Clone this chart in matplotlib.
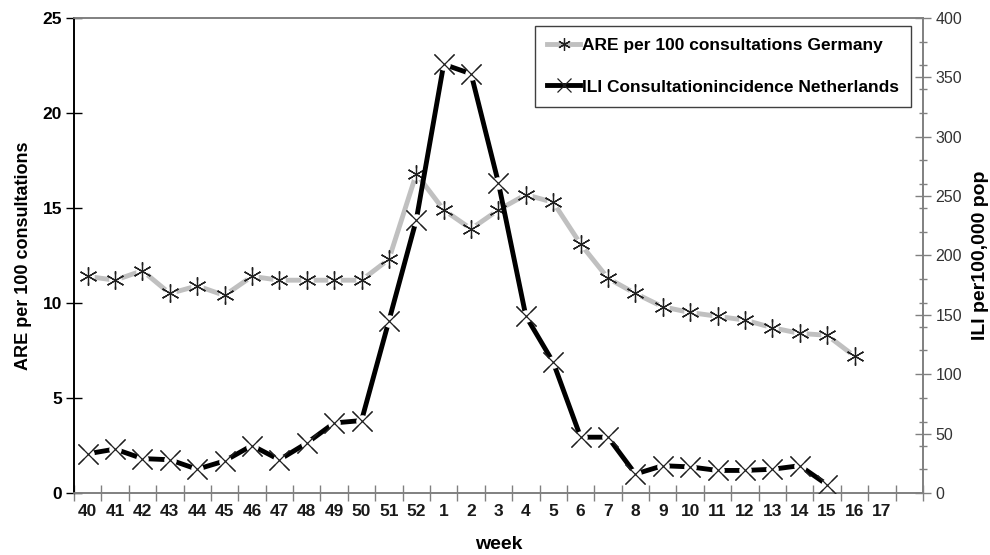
import numpy as np
import matplotlib.pyplot as plt
from matplotlib.ticker import MultipleLocator, FixedLocator

plt.rcParams["font.family"] = ["Liberation Sans", "DejaVu Sans"]

weeks = ["40", "41", "42", "43", "44", "45", "46", "47", "48", "49", "50",
         "51", "52", "1", "2", "3", "4", "5", "6", "7", "8", "9", "10", "11",
         "12", "13", "14", "15", "16", "17"]

# ARE per 100 consultations, Germany (left axis)
are_germany = [11.4, 11.2, 11.7, 10.5, 10.9, 10.4, 11.4, 11.2, 11.2, 11.2,
               11.2, 12.3, 16.8, 14.9, 13.9, 14.9, 15.7, 15.3, 13.1, 11.3,
               10.5, 9.8, 9.5, 9.3, 9.1, 8.7, 8.4, 8.3, 7.2, np.nan]

# ILI consultation incidence per 100,000, Netherlands (right axis)
ili_netherlands = [33, 37, 29, 28, 20, 27, 40, 28, 42, 59, 61, 145, 230,
                   361, 353, 261, 149, 110, 47, 47, 16, 23, 22, 19, 19, 20,
                   23, 7, np.nan, np.nan]

x = np.arange(len(weeks))
grey = "#c0c0c0"
axis_grey = "#808080"

fig = plt.figure(figsize=(9.9, 5.55), dpi=100)
ax = fig.add_axes([0.0747, 0.1117, 0.8576, 0.8559])
ax2 = ax.twinx()

star = (6, 2, 0)
# Germany
ax.plot(x, are_germany, color=grey, linewidth=3.5, zorder=2,
        label="ARE per 100 consultations Germany",
        marker=star, markersize=13, markeredgecolor="#202020",
        markeredgewidth=0.9)
ax.plot(x, are_germany, linestyle="none", marker="o", markersize=9,
        markerfacecolor="white", markeredgewidth=0, zorder=3)
ax.plot(x, are_germany, linestyle="none", marker=star, markersize=13,
        markeredgecolor="#202020", markeredgewidth=0.9, zorder=4)

# Netherlands
ax2.plot(x, ili_netherlands, color="black", linewidth=3.5, zorder=2,
         label="ILI Consultationincidence Netherlands",
         marker="x", markersize=14, markeredgecolor="#202020",
         markeredgewidth=0.9)
ax2.plot(x, ili_netherlands, linestyle="none", marker="o", markersize=9,
         markerfacecolor="white", markeredgewidth=0, zorder=3)
ax2.plot(x, ili_netherlands, linestyle="none", marker="x", markersize=14,
         markeredgecolor="#202020", markeredgewidth=0.9, zorder=4)

ax.set_xlim(-0.5, len(weeks) + 0.5)
ax.set_ylim(0, 25)
ax2.set_ylim(0, 400)

ax.xaxis.set_major_locator(FixedLocator(np.arange(-0.5, len(weeks) + 1, 1)))
ax.xaxis.set_minor_locator(FixedLocator(x))
ax.set_xticklabels([])
ax.set_xticklabels(weeks, minor=True)
ax.tick_params(axis="x", which="major", direction="inout", length=11,
               width=1, color=axis_grey)
ax.tick_params(axis="x", which="minor", length=0, pad=8, labelsize=12.5)
for lab in ax.get_xticklabels(minor=True):
    lab.set_fontweight("bold")
    lab.set_color("#1a1a1a")

ax.yaxis.set_major_locator(MultipleLocator(5))
ax.tick_params(axis="y", direction="inout", length=11, width=1,
               labelsize=12.5, pad=3)
for lab in ax.get_yticklabels():
    lab.set_fontweight("bold")

ax2.yaxis.set_major_locator(MultipleLocator(50))
ax2.yaxis.set_minor_locator(MultipleLocator(20))
ax2.tick_params(axis="y", which="major", direction="inout", length=11,
                width=1, color=axis_grey, labelsize=11.5, labelcolor="#333333")
ax2.tick_params(axis="y", which="minor", direction="inout", length=6,
                width=1, color=axis_grey)

for a in (ax, ax2):
    a.spines["top"].set_color(axis_grey)
    a.spines["bottom"].set_color(axis_grey)
    a.spines["right"].set_color(axis_grey)
    a.spines["left"].set_color("black")
    for s in a.spines.values():
        s.set_linewidth(1.2)
    a.patch.set_visible(False)

ax.set_xlabel("week", fontsize=14, fontweight="bold", labelpad=12)
ax.set_ylabel("ARE per 100 consultations", fontsize=13, fontweight="bold",
              labelpad=8)
ax2.set_ylabel("ILI per100,000 pop", fontsize=14, fontweight="bold",
               labelpad=7)

h1, l1 = ax.get_legend_handles_labels()
h2, l2 = ax2.get_legend_handles_labels()
leg = ax2.legend(h1 + h2, l1 + l2, loc="upper right",
                 bbox_to_anchor=(0.986, 0.983), fancybox=False,
                 edgecolor="#404040", framealpha=1,
                 prop={"weight": "bold", "size": 12.5},
                 handlelength=1.9, handletextpad=0.1, labelspacing=1.5,
                 borderpad=0.7, borderaxespad=0, markerscale=0.7)
leg.get_frame().set_linewidth(1.0)

fig.savefig("out.png", dpi=100)
